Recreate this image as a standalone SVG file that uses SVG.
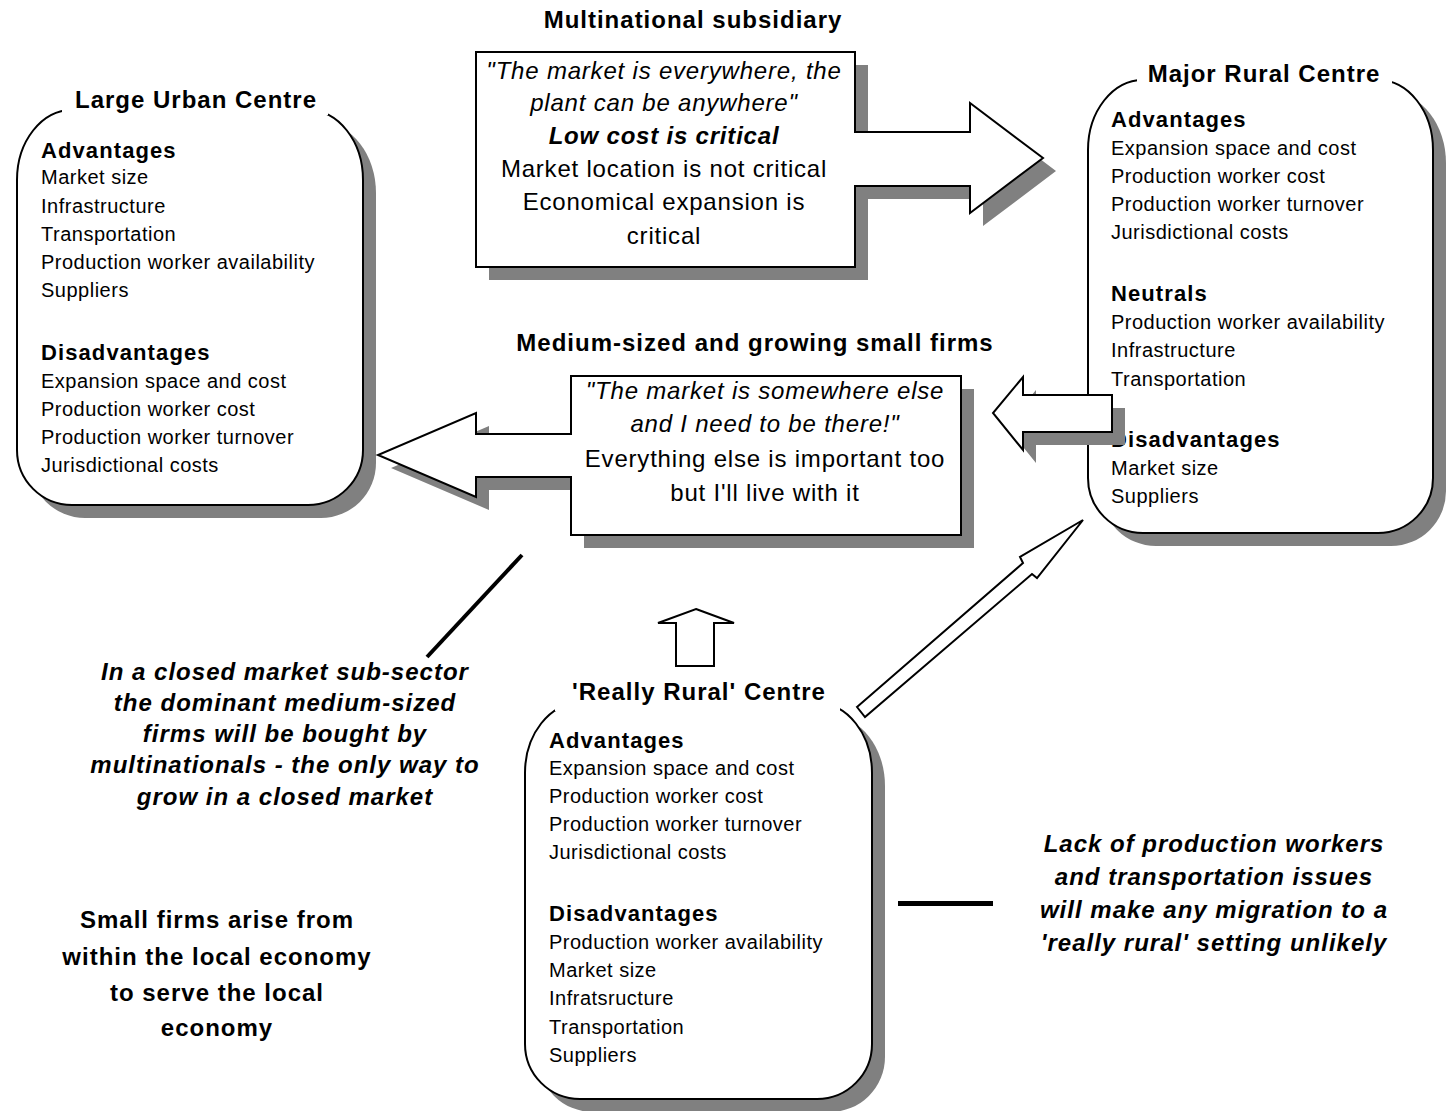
<svg xmlns="http://www.w3.org/2000/svg" width="1446" height="1111" viewBox="0 0 1446 1111">
<style>
text{font-family:"Liberation Sans",Arial,sans-serif;fill:#000}
.title{font-size:24px;font-weight:bold;letter-spacing:1px;text-anchor:middle}
.hdr{font-size:22px;font-weight:bold;letter-spacing:1.1px}
.item{font-size:20px;letter-spacing:0.5px}
.q{font-size:24px;letter-spacing:0.8px;text-anchor:middle}
.qi{font-style:italic}
.qb{font-weight:bold;font-style:italic}
.note{font-size:24px;font-weight:bold;letter-spacing:1px;text-anchor:middle}
.ni{font-style:italic}
.shadow{fill:#808080;stroke:none}
.shape{fill:#fff;stroke:#000;stroke-width:2}
.gap{fill:#fff;stroke:none}
</style>
<defs>
<path id="lucShape" d="M72,110 H308 A55,70 0 0 1 363,180 V450 A55,55 0 0 1 308,505 H72 A55,55 0 0 1 17,450 V180 A55,70 0 0 1 72,110 Z"/>
<path id="mrcShape" d="M1143,80 H1378 A55,70 0 0 1 1433,150 V478 A55,55 0 0 1 1378,533 H1143 A55,55 0 0 1 1088,478 V150 A55,70 0 0 1 1143,80 Z"/>
<path id="rrcShape" d="M580,703 H817 A55,70 0 0 1 872,773 V1044 A55,55 0 0 1 817,1099 H580 A55,55 0 0 1 525,1044 V773 A55,70 0 0 1 580,703 Z"/>
<polygon id="multiShape" points="476,52 855,52 855,132 970,132 970,103 1043,158 970,213 970,186 855,186 855,267 476,267"/>
<polygon id="medShape" points="571,376 961,376 961,535 571,535 571,477 476,477 476,497 378,455 476,413 476,434 571,434"/>
<polygon id="smallShape" points="1112,395 1112,432 1023,432 1023,450 993,413 1023,377 1023,395"/>
</defs>

<g id="large-urban-centre">
<use href="#lucShape" class="shadow" transform="translate(13,13)"/>
<use href="#lucShape" class="shape"/>
<rect class="gap" x="62" y="92" width="266" height="23"/>
<text class="title" x="196" y="108">Large Urban Centre</text>
<text class="hdr" x="41" y="158">Advantages</text>
<text class="item" x="41" y="184">Market size</text>
<text class="item" x="41" y="213">Infrastructure</text>
<text class="item" x="41" y="241">Transportation</text>
<text class="item" x="41" y="269">Production worker availability</text>
<text class="item" x="41" y="297">Suppliers</text>
<text class="hdr" x="41" y="360">Disadvantages</text>
<text class="item" x="41" y="388">Expansion space and cost</text>
<text class="item" x="41" y="416">Production worker cost</text>
<text class="item" x="41" y="444">Production worker turnover</text>
<text class="item" x="41" y="472">Jurisdictional costs</text>
</g>

<g id="major-rural-centre">
<use href="#mrcShape" class="shadow" transform="translate(13,13)"/>
<use href="#mrcShape" class="shape"/>
<rect class="gap" x="1137" y="62" width="255" height="23"/>
<text class="title" x="1264" y="82">Major Rural Centre</text>
<text class="hdr" x="1111" y="127">Advantages</text>
<text class="item" x="1111" y="155">Expansion space and cost</text>
<text class="item" x="1111" y="183">Production worker cost</text>
<text class="item" x="1111" y="211">Production worker turnover</text>
<text class="item" x="1111" y="239">Jurisdictional costs</text>
<text class="hdr" x="1111" y="301">Neutrals</text>
<text class="item" x="1111" y="329">Production worker availability</text>
<text class="item" x="1111" y="357">Infrastructure</text>
<text class="item" x="1111" y="386">Transportation</text>
<text class="hdr" x="1111" y="447">Disadvantages</text>
<text class="item" x="1111" y="475">Market size</text>
<text class="item" x="1111" y="503">Suppliers</text>
</g>

<g id="really-rural-centre">
<use href="#rrcShape" class="shadow" transform="translate(13,13)"/>
<use href="#rrcShape" class="shape"/>
<rect class="gap" x="555" y="684" width="285" height="27"/>
<text class="title" x="699" y="700">'Really Rural' Centre</text>
<text class="hdr" x="549" y="748">Advantages</text>
<text class="item" x="549" y="775">Expansion space and cost</text>
<text class="item" x="549" y="803">Production worker cost</text>
<text class="item" x="549" y="831">Production worker turnover</text>
<text class="item" x="549" y="859">Jurisdictional costs</text>
<text class="hdr" x="549" y="921">Disadvantages</text>
<text class="item" x="549" y="949">Production worker availability</text>
<text class="item" x="549" y="977">Market size</text>
<text class="item" x="549" y="1005">Infratsructure</text>
<text class="item" x="549" y="1034">Transportation</text>
<text class="item" x="549" y="1062">Suppliers</text>
</g>

<g id="multinational-subsidiary">
<use href="#multiShape" class="shadow" transform="translate(13,13)"/>
<use href="#multiShape" class="shape"/>
<text class="title" x="693" y="28">Multinational subsidiary</text>
<text class="q qi" x="664" y="79">"The market is everywhere, the</text>
<text class="q qi" x="664" y="111">plant can be anywhere"</text>
<text class="q qb" x="664" y="144">Low cost is critical</text>
<text class="q" x="664" y="177">Market location is not critical</text>
<text class="q" x="664" y="210">Economical expansion is</text>
<text class="q" x="664" y="244">critical</text>
</g>

<g id="medium-sized-firms">
<use href="#medShape" class="shadow" transform="translate(13,13)"/>
<use href="#medShape" class="shape"/>
<text class="title" x="755" y="351">Medium-sized and growing small firms</text>
<text class="q qi" x="765" y="399">"The market is somewhere else</text>
<text class="q qi" x="765" y="432">and I need to be there!"</text>
<text class="q" x="765" y="467">Everything else is important too</text>
<text class="q" x="765" y="501">but I'll live with it</text>
</g>

<g id="connectors">
<use href="#smallShape" class="shadow" transform="translate(13,13)"/>
<use href="#smallShape" class="shape"/>
<polygon class="shape" points="696,609 734,623 714,623 714,666 676,666 676,623 658,623"/>
<polygon class="shape" points="857,707 1023,563 1020,557 1083,520 1037,578 1032,574 865,717"/>
<line x1="427" y1="657" x2="522" y2="555" stroke="#000" stroke-width="4"/>
<line x1="898" y1="903.5" x2="993" y2="903.5" stroke="#000" stroke-width="5"/>
</g>

<g id="note-closed-market">
<text class="note ni" x="285" y="680">In a closed market sub-sector</text>
<text class="note ni" x="285" y="711">the dominant medium-sized</text>
<text class="note ni" x="285" y="742">firms will be bought by</text>
<text class="note ni" x="285" y="773">multinationals - the only way to</text>
<text class="note ni" x="285" y="805">grow in a closed market</text>
</g>

<g id="note-small-firms">
<text class="note" x="217" y="928">Small firms arise from</text>
<text class="note" x="217" y="965">within the local economy</text>
<text class="note" x="217" y="1001">to serve the local</text>
<text class="note" x="217" y="1036">economy</text>
</g>

<g id="note-lack-workers">
<text class="note ni" x="1214" y="852">Lack of production workers</text>
<text class="note ni" x="1214" y="885">and transportation issues</text>
<text class="note ni" x="1214" y="918">will make any migration to a</text>
<text class="note ni" x="1214" y="951">'really rural' setting unlikely</text>
</g>
</svg>
